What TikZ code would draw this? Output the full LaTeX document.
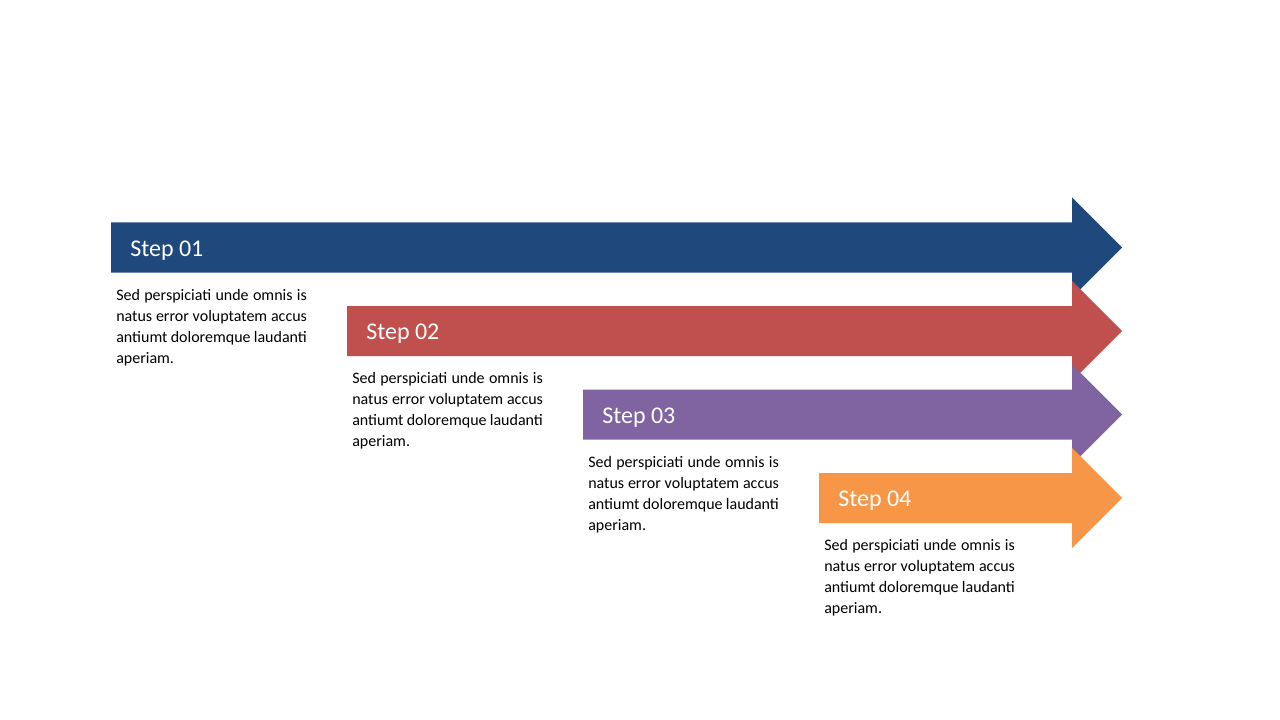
\documentclass[tikz,border=0pt]{standalone}
\usepackage{fontspec}
\setmainfont{Carlito}
\definecolor{cblue}{HTML}{1F497D}
\definecolor{cred}{HTML}{C0504D}
\definecolor{cpurple}{HTML}{8064A2}
\definecolor{corange}{HTML}{F79646}
\newcommand{\stepbody}{Sed perspiciati unde omnis is\linebreak natus error voluptatem accus\linebreak antiumt doloremque laudanti\linebreak aperiam.}
\begin{document}
\begin{tikzpicture}[x=0.75pt,y=-0.75pt,
  steplabel/.style={anchor=base west,inner sep=0pt,text=white,font=\fontsize{18}{21}\selectfont},
  stepbody/.style={anchor=base west,inner sep=0pt,text width=143pt,align=justify,font=\fontsize{12}{15.75}\selectfont,text=black}]
\useasboundingbox[fill=white] (0,0) rectangle (1280,720);
\foreach \i/\x/\yc/\col in {1/111/247.5/cblue,2/347/331/cred,3/583/414.5/cpurple,4/819/498/corange}{
  \fill[\col] (\x,\yc-25) -- (1072,\yc-25) -- (1072,\yc-50) -- (1122,\yc) -- (1072,\yc+50) -- (1072,\yc+25) -- (\x,\yc+25) -- cycle;
  \node[steplabel] (label\i) at (\x+19,\yc+8.5) {Step 0\i};
  \node[stepbody] (body\i) at (\x+5,\yc+52.5) {\stepbody};
}
\end{tikzpicture}
\end{document}
